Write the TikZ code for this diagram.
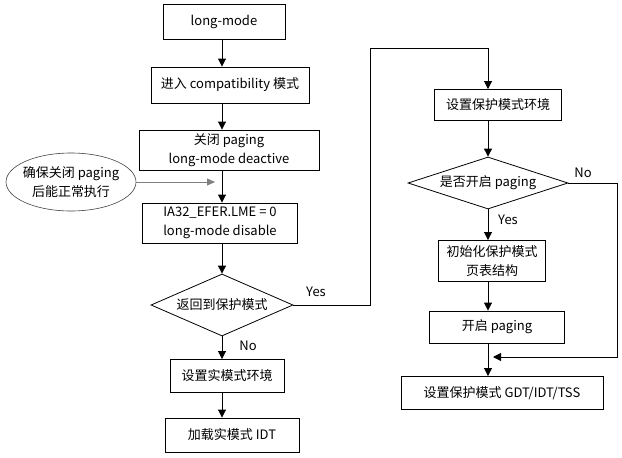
\documentclass[tikz,border=0pt]{standalone}
\usepackage{fontspec}
\setmainfont{Noto Sans CJK SC}
\usetikzlibrary{arrows.meta,shapes.geometric,positioning,calc}

\begin{document}
\begin{tikzpicture} [x=1pt,y=-1pt,{box/.style={rectangle,draw=black,line width=0.9pt,inner sep=0pt,align=center,font=\fontsize{13}{19}\selectfont}},{decide/.style={diamond,draw=black,line width=0.8pt,inner sep=0pt,font=\fontsize{13}{16}\selectfont}},{flow/.style={-{Triangle[length=8pt,width=8pt]},line width=0.9pt}},{lbl/.style={font=\fontsize{13}{16}\selectfont}}]
	\useasboundingbox (0,0) rectangle (622,458);
	%%left column
	\node [box,minimum width=122,minimum height=35] (lm) at (224,22) {long-mode};
	\node [box,minimum width=158,minimum height=36] (compat) at (230,85) {进入 compatibility 模式};
	\node [box,minimum width=180,minimum height=40] (off) at (229,150) {关闭 paging\\long-mode deactive};
	\node [box,minimum width=155,minimum height=40] (ia32) at (220,223) {IA32\_EFER.LME = 0\\long-mode disable};
	\node [decide,aspect=2.29,minimum width=142,minimum height=62] (ret) at (222,305) {返回到保护模式};
	\node [box,minimum width=114,minimum height=33] (real) at (227,376) {设置实模式环境};
	\node [box,minimum width=134,minimum height=34] (idt) at (232,435) {加载实模式 IDT};

	%%note
	\node [align=center,font=\fontsize{13}{19}\selectfont] (note) at (71,182) {确保关闭 paging\\后能正常执行};
	\draw [black!75,line width=0.6pt] (note.center) ellipse [x radius=65,y radius=29];
	\coordinate (noteE) at (136,182);
	\coordinate (noteT) at (215,182);
	\draw [-{Triangle[length=8pt,width=7pt]},gray,line width=0.8pt] (noteE) -- (noteT);

	%%right column
	\node [box,minimum width=127,minimum height=31] (pset) at (498,105) {设置保护模式环境};
	\node [decide,aspect=3.08,minimum width=160,minimum height=52] (pag) at (488,183) {是否开启 paging};
	\node [box,minimum width=107,minimum height=41] (init) at (492,261) {初始化保护模式\\页表结构};
	\node [box,minimum width=135,minimum height=32] (on) at (497,327) {开启 paging};
	\node [box,minimum width=202,minimum height=33] (gdt) at (502,393) {设置保护模式 GDT/IDT/TSS};

	%%arrows left
	\draw [flow] (ret |- lm.south) -- (ret |- compat.north);
	\draw [flow] (ret |- compat.south) -- (ret |- off.north);
	\draw [flow] (ret |- off.south) -- (ret |- ia32.north);
	\draw [flow] (ret |- ia32.south) -- (ret.north);
	\draw [flow] (ret.south) -- (ret |- real.north);
	\draw [flow] (ret |- real.south) -- (ret |- idt.north);

	%%yes branch
	\coordinate (up) at (370,48);
	\draw [flow] (ret.east) -| (up) -| (pag |- pset.north);

	%%arrows right
	\draw [flow] (pag |- pset.south) -- (pag.north);
	\draw [flow] (pag.south) -- (pag |- init.north);
	\draw [flow] (pag |- init.south) -- (pag |- on.north);
	\draw [flow] (pag |- on.south) -- (pag |- gdt.north);

	%%no branch
	\coordinate (edge) at (617,357);
	\coordinate (join) at (493,357);
	\draw [flow] (pag.east) -| (edge) -- (join);

	%%labels
	\node [lbl] (yes1) at (316,292) {Yes};
	\node [lbl] (no1) at (248,346) {No};
	\node [lbl] (no2) at (583,173) {No};
	\node [lbl] (yes2) at (508,220) {Yes};
\end{tikzpicture}
\end{document}
